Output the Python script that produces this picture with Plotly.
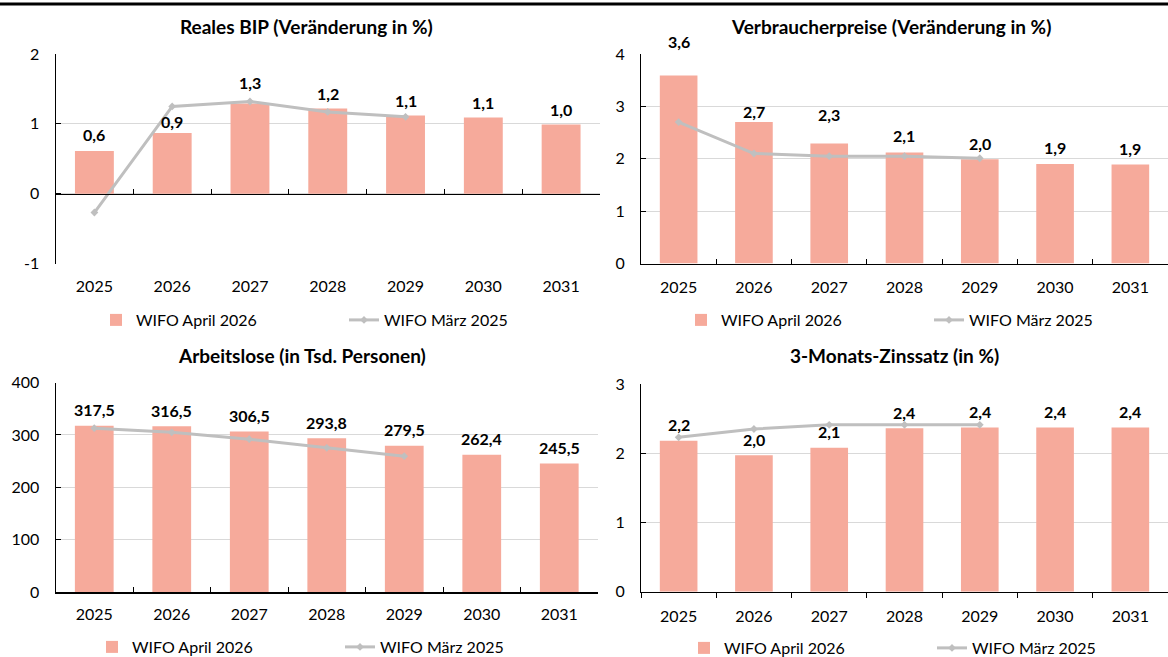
import plotly.graph_objects as go

years = ["2025", "2026", "2027", "2028", "2029", "2030", "2031"]
years_old = ["2025", "2026", "2027", "2028", "2029"]

bip_apr26 = [0.61, 0.87, 1.29, 1.22, 1.12, 1.09, 0.99]
bip_mar25 = [-0.27, 1.25, 1.32, 1.17, 1.10]

vpi_apr26 = [3.59, 2.70, 2.29, 2.12, 1.99, 1.90, 1.89]
vpi_mar25 = [2.70, 2.10, 2.05, 2.05, 2.01]

al_apr26 = [317.5, 316.5, 306.5, 293.8, 279.5, 262.4, 245.5]
al_mar25 = [313.0, 305.0, 292.0, 275.5, 259.5]

zins_apr26 = [2.18, 1.97, 2.08, 2.36, 2.37, 2.37, 2.37]
zins_mar25 = [2.23, 2.35, 2.41, 2.41, 2.41]

titles = ["Reales BIP (Veränderung in %)", "Verbraucherpreise (Veränderung in %)",
          "Arbeitslose (in Tsd. Personen)", "3-Monats-Zinssatz (in %)"]
name_new = "WIFO April 2026"
name_old = "WIFO März 2025"

# ---- styling / layout ----
W, H = 1168, 657
FONT = "Lato"
BAR_COLOR = "#F6AA9B"
LINE_COLOR = "#BFBFBF"
GRID = "#D9D9D9"

# plot areas in pixels (x0, x1, ytop, ybottom)
areas = [(55.5, 600, 54, 263.5), (641, 1168, 54, 263.5),
         (55.5, 598, 382.5, 592.3), (641, 1168, 384, 591.7)]
yranges = [(-1, 2), (0, 4), (0, 400), (0, 3)]
ydticks = [1, 1, 100, 1]
title_pos = [(306, 27), (891, 27), (302, 355), (894, 355)]
legend_pos = [(344, 320), (929, 320), (340, 647), (932, 648)]
# pixel offset of each data label's centre above its bar top
label_shift = [[17, 11, 21, 15, 15, 15, 15],
               [34, 11, 29, 17, 16, 16, 16],
               [16] * 7, [16] * 7]
xtick_dir = ["inside", "inside", "inside", "outside"]
xlabel_standoff = [11, 9, 7, 10]

panels = [(bip_apr26, bip_mar25), (vpi_apr26, vpi_mar25),
          (al_apr26, al_mar25), (zins_apr26, zins_mar25)]

fig = go.Figure()
annotations = []
layout = dict(width=W, height=H, autosize=False,
              margin=dict(l=0, r=0, t=0, b=0, pad=0, autoexpand=False),
              paper_bgcolor="white", plot_bgcolor="white",
              font=dict(family=FONT, size=15, color="#000000"),
              bargap=0.5, showlegend=True, separators=",.")


def fmt(v):
    return f"{v:.1f}".replace(".", ",")


for i, ((bars, line), (x0, x1, yt, yb), yr, dt) in enumerate(zip(panels, areas, yranges, ydticks)):
    n = i + 1
    sfx = "" if n == 1 else str(n)
    leg = "legend" if n == 1 else f"legend{n}"
    fig.add_trace(go.Bar(x=years, y=bars, name=name_new,
                         marker=dict(color=BAR_COLOR, line=dict(width=0)),
                         xaxis=f"x{sfx}", yaxis=f"y{sfx}", legend=leg, hoverinfo="skip"))
    fig.add_trace(go.Scatter(x=years_old, y=line, name=name_old, mode="lines+markers",
                             line=dict(color=LINE_COLOR, width=3),
                             marker=dict(symbol="diamond", size=6, color=LINE_COLOR),
                             xaxis=f"x{sfx}", yaxis=f"y{sfx}", legend=leg, hoverinfo="skip"))
    ydom = [1 - yb / H, 1 - yt / H]
    xdom = [x0 / W, x1 / W]
    tv = list(range(int(yr[0]), int(yr[1]) + 1, dt))
    tt = [str(v) for v in tv]
    layout[f"yaxis{sfx}"] = dict(domain=ydom, anchor=f"x{sfx}", range=list(yr), tickvals=tv, ticktext=tt,
                                 showgrid=True, gridcolor=GRID, gridwidth=1, zeroline=False,
                                 showline=True, linecolor="black", linewidth=1,
                                 ticks="inside", ticklen=5, tickcolor="black", tickwidth=1,
                                 ticklabelstandoff=12, tickfont=dict(size=16), fixedrange=True)
    base_x = dict(domain=xdom, anchor=f"y{sfx}", type="category", range=[-0.5, 6.5],
                  categoryorder="array", categoryarray=years, showgrid=False, zeroline=False,
                  tickfont=dict(size=16), fixedrange=True)
    if n == 1:
        layout["xaxis"] = dict(base_x, showline=False, ticks="", ticklabelstandoff=xlabel_standoff[i])
    else:
        layout[f"xaxis{sfx}"] = dict(base_x, showline=True, linecolor="black", linewidth=1.5,
                                     ticks=xtick_dir[i], tickson="boundaries", ticklen=5,
                                     tickcolor="black", tickwidth=1,
                                     ticklabelstandoff=xlabel_standoff[i])
    layout[leg] = dict(orientation="h", x=legend_pos[i][0] / W, y=1 - legend_pos[i][1] / H,
                       xanchor="center", yanchor="middle", font=dict(size=16, family=FONT),
                       bgcolor="rgba(0,0,0,0)", entrywidth=203, traceorder="normal",
                       itemclick=False, itemdoubleclick=False)
    # data labels above the bars (x = category index on the category axis)
    for j, (val, sh) in enumerate(zip(bars, label_shift[i])):
        annotations.append(dict(x=j, y=val, xref=f"x{sfx}", yref=f"y{sfx}",
                                text=f"<b>{fmt(val)}</b>",
                                showarrow=False, xanchor="center", yanchor="middle", yshift=sh,
                                font=dict(size=16, family=FONT, color="black")))
    annotations.append(dict(x=title_pos[i][0] / W, y=1 - title_pos[i][1] / H, xref="paper", yref="paper",
                            text=f"<b>{titles[i]}</b>", showarrow=False, xanchor="center",
                            yanchor="middle", font=dict(size=19, family=FONT, color="black")))

# zero-line axis for the BIP panel (axis line and ticks sit at y = 0)
yb0, yt0 = layout["yaxis"]["domain"]
zero_pos = yb0 + (0 - yranges[0][0]) / (yranges[0][1] - yranges[0][0]) * (yt0 - yb0)
fig.add_trace(go.Scatter(x=years, y=bip_apr26, mode="lines", line=dict(width=0), opacity=0,
                         xaxis="x5", yaxis="y", showlegend=False, hoverinfo="skip"))
layout["xaxis5"] = dict(overlaying="x", anchor="free", position=zero_pos, type="category",
                        range=[-0.5, 6.5], categoryorder="array", categoryarray=years,
                        showline=True, linecolor="black", linewidth=1.5, showgrid=False, zeroline=False,
                        ticks="inside", tickson="boundaries", ticklen=5, tickcolor="black",
                        showticklabels=False, fixedrange=True)

layout["annotations"] = annotations
layout["shapes"] = [dict(type="line", xref="paper", yref="paper", x0=0, x1=1,
                         y0=1 - 4 / H, y1=1 - 4 / H, line=dict(color="black", width=3))]
fig.update_layout(**layout)

fig.write_html("out.html", config={"displayModeBar": False, "staticPlot": True},
               post_script="document.body.style.margin='0';")
